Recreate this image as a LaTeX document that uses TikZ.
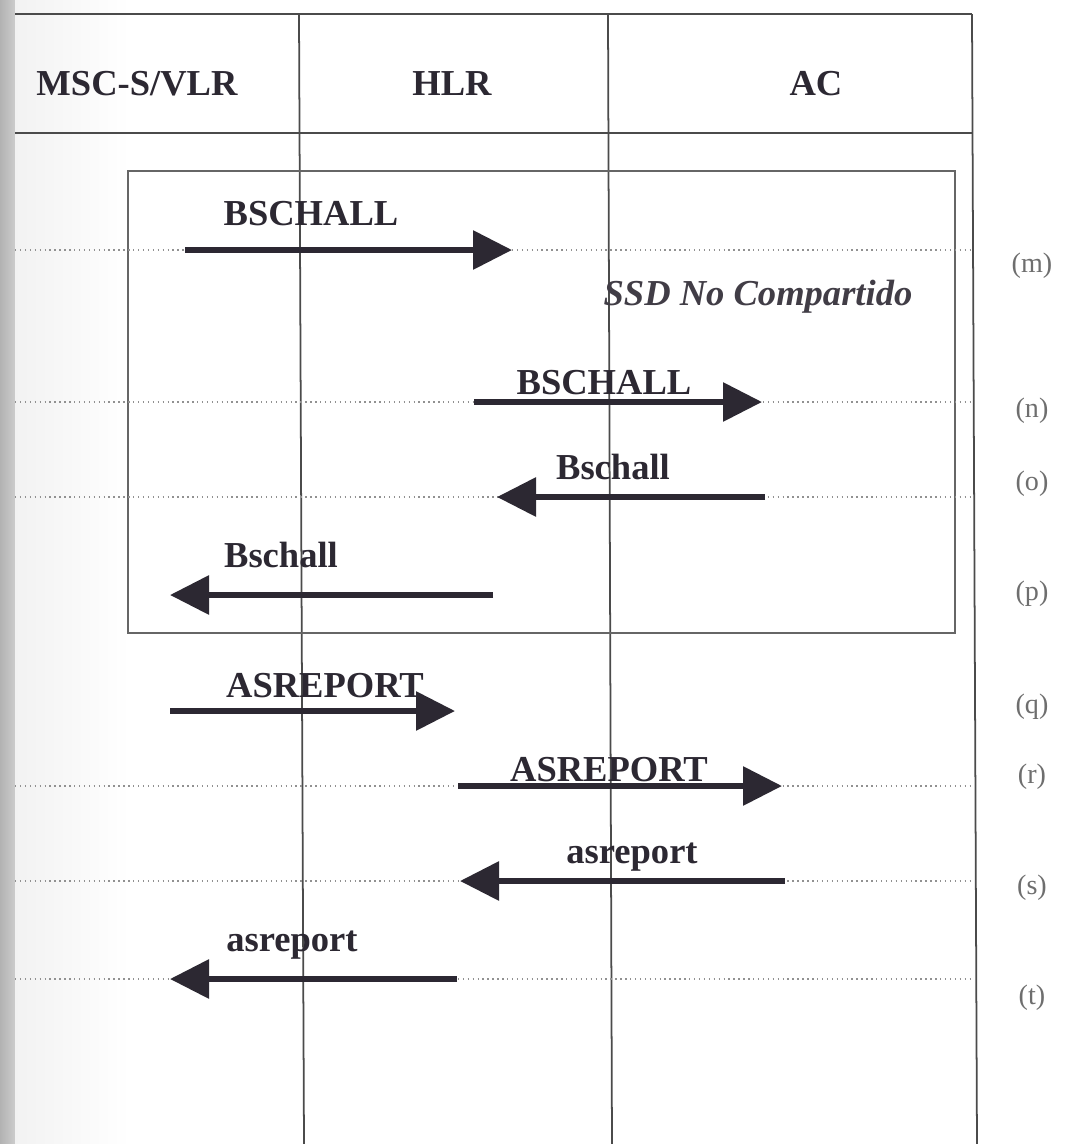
\documentclass[tikz,border=0pt]{standalone}
\usepackage{fontspec}
\setmainfont{Liberation Serif}
\usetikzlibrary{arrows.meta}
\definecolor{ink}{RGB}{44,40,50}
\definecolor{rulec}{RGB}{75,75,75}
\definecolor{faint}{RGB}{145,145,145}
\definecolor{tagc}{RGB}{110,110,110}
\begin{document}
\begin{tikzpicture}[x=0.1mm,y=-0.1mm,
  hdr/.style={font=\fontsize{10.4}{12}\selectfont\bfseries, text=ink, inner sep=0pt, anchor=base},
  msg/.style={font=\fontsize{10.4}{12}\selectfont\bfseries, text=ink, inner sep=0pt, anchor=base},
  note/.style={font=\fontsize{10.4}{12}\selectfont\bfseries\itshape, text=ink!90, inner sep=0pt, anchor=base},
  tag/.style={font=\fontsize{8}{9}\selectfont, text=tagc, inner sep=0pt, anchor=base},
  grid/.style={draw=rulec, line width=0.5pt},
  box/.style={draw=rulec!85, line width=0.45pt},
  trace/.style={draw=faint, line width=0.4pt, densely dotted},
  sig/.style={draw=ink, line width=1.75pt, -{Triangle[length=3.9mm,width=3.8mm]}},
]
\useasboundingbox (0,0) rectangle (1066,1144);
\fill[white] (0,0) rectangle (1066,1144);
% scan shadow at the left edge
\shade[left color=gray!60, right color=gray!40] (0,0) rectangle (15,1144);
\shade[left color=gray!10, right color=white] (15,0) rectangle (130,1144);

% table frame
\draw[grid] (15,14) -- (972,14);
\draw[grid] (15,133) -- (972,133);
\draw[grid] (972,14) -- (977,1144);
\draw[grid] (299,14) -- (304,1144);
\draw[grid] (608,14) -- (612,1144);

% headers
\node[hdr] (h1) at (137,95) {MSC-S/VLR};
\node[hdr] (h2) at (452,95) {HLR};
\node[hdr] (h3) at (816,95) {AC};

% SSD frame
\draw[box] (128,171) rectangle (955,633);
\node[note] (ssd) at (758,305) {SSD No Compartido};

% trace lines
\foreach \yy/\nm in {250/m,402/n,497/o,786/r,881/s,979/t}{
  \coordinate (tl\nm) at (15,\yy);
  \coordinate (tr\nm) at (974,\yy);
  \draw[trace] (tl\nm) -- (tr\nm);
}

% arrow end points
\coordinate (m1) at (185,250); \coordinate (m2) at (512,250);
\coordinate (n1) at (474,402); \coordinate (n2) at (762,402);
\coordinate (o1) at (765,497); \coordinate (o2) at (497,497);
\coordinate (p1) at (493,595); \coordinate (p2) at (170,595);
\coordinate (q1) at (170,711); \coordinate (q2) at (455,711);
\coordinate (r1) at (458,786); \coordinate (r2) at (782,786);
\coordinate (s1) at (785,881); \coordinate (s2) at (460,881);
\coordinate (t1) at (457,979); \coordinate (t2) at (170,979);

\draw[sig] (m1) -- (m2);
\draw[sig] (n1) -- (n2);
\draw[sig] (o1) -- (o2);
\draw[sig] (p1) -- (p2);
\draw[sig] (q1) -- (q2);
\draw[sig] (r1) -- (r2);
\draw[sig] (s1) -- (s2);
\draw[sig] (t1) -- (t2);

% message labels
\node[msg] (lm) at (311,225) {BSCHALL};
\node[msg] (ln) at (604,394) {BSCHALL};
\node[msg] (lo) at (613,479) {Bschall};
\node[msg] (lp) at (281,567) {Bschall};
\node[msg] (lq) at (325,697) {ASREPORT};
\node[msg] (lr) at (609,781) {ASREPORT};
\node[msg] (ls) at (632,863) {asreport};
\node[msg] (lt) at (292,951) {asreport};

% step tags
\node[tag] (gm) at (1032,272) {(m)};
\node[tag] (gn) at (1032,417) {(n)};
\node[tag] (go) at (1032,490) {(o)};
\node[tag] (gp) at (1032,600) {(p)};
\node[tag] (gq) at (1032,713) {(q)};
\node[tag] (gr) at (1032,783) {(r)};
\node[tag] (gs) at (1032,894) {(s)};
\node[tag] (gt) at (1032,1004) {(t)};
\end{tikzpicture}
\end{document}
